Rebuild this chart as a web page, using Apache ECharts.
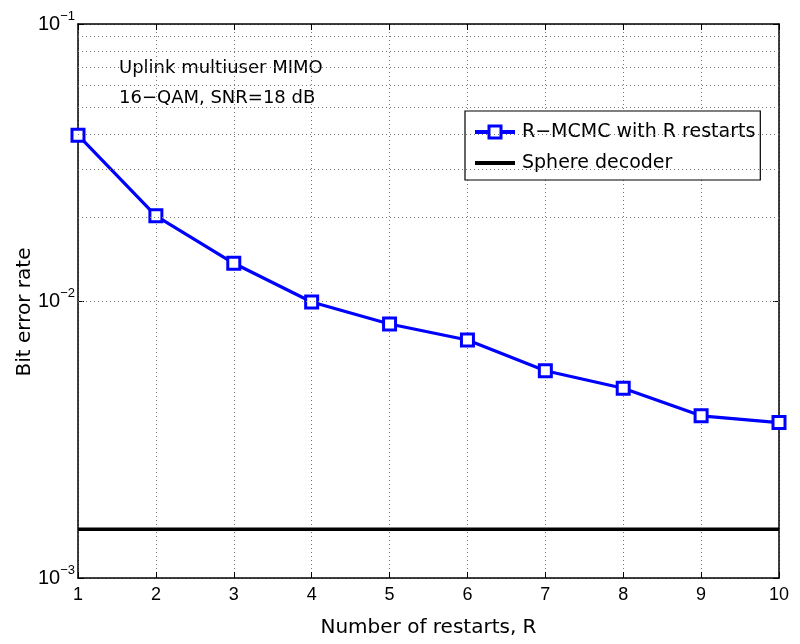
<!DOCTYPE html>
<html>
<head>
<meta charset="utf-8">
<script src="https://cdn.jsdelivr.net/npm/echarts@6/dist/echarts.min.js"></script>
<style>
html,body{margin:0;padding:0;background:#fff;}
#chart{width:800px;height:644px;}
</style>
</head>
<body>
<div id="chart"></div>
<script>
// ---- data ----
var restarts = [1, 2, 3, 4, 5, 6, 7, 8, 9, 10];
var rmcmcBER = [0.0397, 0.0203, 0.01368, 0.00992, 0.00826, 0.00723, 0.00560, 0.00484, 0.00385, 0.00364];
var sphereBER = 0.00150;
var minorGridValues = [0.002, 0.003, 0.004, 0.005, 0.006, 0.007, 0.008, 0.009,
                       0.02, 0.03, 0.04, 0.05, 0.06, 0.07, 0.08, 0.09];
var seriesNames = ['R\u2212MCMC with R restarts', 'Sphere decoder'];
var annotationLines = ['Uplink multiuser MIMO', '16\u2212QAM, SNR=18 dB'];
var xAxisTitle = 'Number of restarts, R';
var yAxisTitle = 'Bit error rate';

var FONT = 'Liberation Sans';
var TFONT = 'DejaVu Sans';
var gridDot = {color: '#777', type: [1, 3], width: 1};

var chart = echarts.init(document.getElementById('chart'), null, {renderer: 'canvas'});

function yLabel(v) {
  var e = Math.round(Math.log10(v));
  return '{b|10}{s|' + (e < 0 ? '\u2212' : '') + Math.abs(e) + '}';
}

var option = {
  animation: false,
  backgroundColor: '#fff',
  textStyle: {fontFamily: FONT},
  grid: {left: 78, right: 21, top: 24, bottom: 66, outerBoundsMode: 'none', containLabel: false},
  xAxis: [{
    type: 'value', min: 1, max: 10, interval: 1,
    name: xAxisTitle, nameLocation: 'middle', nameGap: 40,
    nameTextStyle: {fontSize: 20, color: '#000', fontFamily: TFONT},
    axisLine: {lineStyle: {color: '#000', width: 1.5}},
    axisTick: {inside: true, length: 6, lineStyle: {color: '#000'}},
    axisLabel: {fontSize: 18, color: '#000', margin: 8, fontFamily: FONT},
    splitLine: {show: true, lineStyle: gridDot}
  }, {
    type: 'value', min: 1, max: 10, interval: 1, position: 'top',
    axisLine: {lineStyle: {color: '#000', width: 1.5}},
    axisTick: {inside: true, length: 6, lineStyle: {color: '#000'}},
    axisLabel: {show: false}, splitLine: {show: false}
  }],
  yAxis: [{
    type: 'log', logBase: 10, min: 0.001, max: 0.1,
    axisLine: {show: true, lineStyle: {color: '#000', width: 1.5}},
    axisTick: {show: true, inside: true, length: 6, lineStyle: {color: '#000'}},
    axisLabel: {
      formatter: yLabel, margin: 3, color: '#000',
      rich: {
        b: {fontSize: 20, fontFamily: FONT, color: '#000'},
        s: {fontSize: 13, fontFamily: FONT, color: '#000', padding: [0, 0, 16, 0]}
      }
    },
    splitLine: {show: true, lineStyle: gridDot}
  }, {
    type: 'log', logBase: 10, min: 0.001, max: 0.1, position: 'right',
    axisLine: {show: true, lineStyle: {color: '#000', width: 1.5}},
    axisTick: {show: true, inside: true, length: 6, lineStyle: {color: '#000'}},
    axisLabel: {show: false}, splitLine: {show: false}
  }],
  legend: {
    data: [
      {name: seriesNames[0], lineStyle: {width: 4}, itemStyle: {borderWidth: 3}},
      {name: seriesNames[1], lineStyle: {width: 4}, itemStyle: {opacity: 0}}
    ],
    orient: 'vertical',
    left: 465, top: 111,
    backgroundColor: '#fff',
    borderColor: '#000', borderWidth: 1.2, borderRadius: 0,
    padding: [10, 5, 6, 8],
    itemGap: 9, itemWidth: 40, itemHeight: 15,
    textStyle: {fontSize: 19, lineHeight: 22, color: '#000', fontFamily: TFONT, padding: [0, 0, 0, 2]}
  },
  graphic: [{
    type: 'text', left: 119, top: 59,
    style: {text: annotationLines[0], fill: '#000', font: '18px "DejaVu Sans"'}
  }, {
    type: 'text', left: 119, top: 89,
    style: {text: annotationLines[1], fill: '#000', font: '18px "DejaVu Sans"'}
  }, {
    type: 'text', x: 25, y: 312, rotation: Math.PI / 2,
    style: {text: yAxisTitle, fill: '#000', font: '20px "DejaVu Sans"', align: 'center', verticalAlign: 'middle'}
  }],
  series: [{
    name: '__grid', type: 'line', data: [], silent: true,
    markLine: {
      silent: true, symbol: ['none', 'none'], label: {show: false},
      lineStyle: gridDot,
      data: minorGridValues.map(function (v) { return {yAxis: v}; })
    }
  }, {
    name: seriesNames[1], type: 'line',
    data: [[restarts[0], sphereBER], [restarts[restarts.length - 1], sphereBER]],
    symbol: 'none', lineStyle: {color: '#000', width: 3.5}, itemStyle: {color: '#000'}, z: 3
  }, {
    name: seriesNames[0], type: 'line',
    data: restarts.map(function (r, i) { return [r, rmcmcBER[i]]; }),
    symbol: 'rect', symbolSize: 12, showAllSymbol: true,
    lineStyle: {color: '#0000ff', width: 3.2},
    itemStyle: {color: '#fff', borderColor: '#0000ff', borderWidth: 3},
    z: 4
  }]
};
chart.setOption(option);
</script>
</body>
</html>
